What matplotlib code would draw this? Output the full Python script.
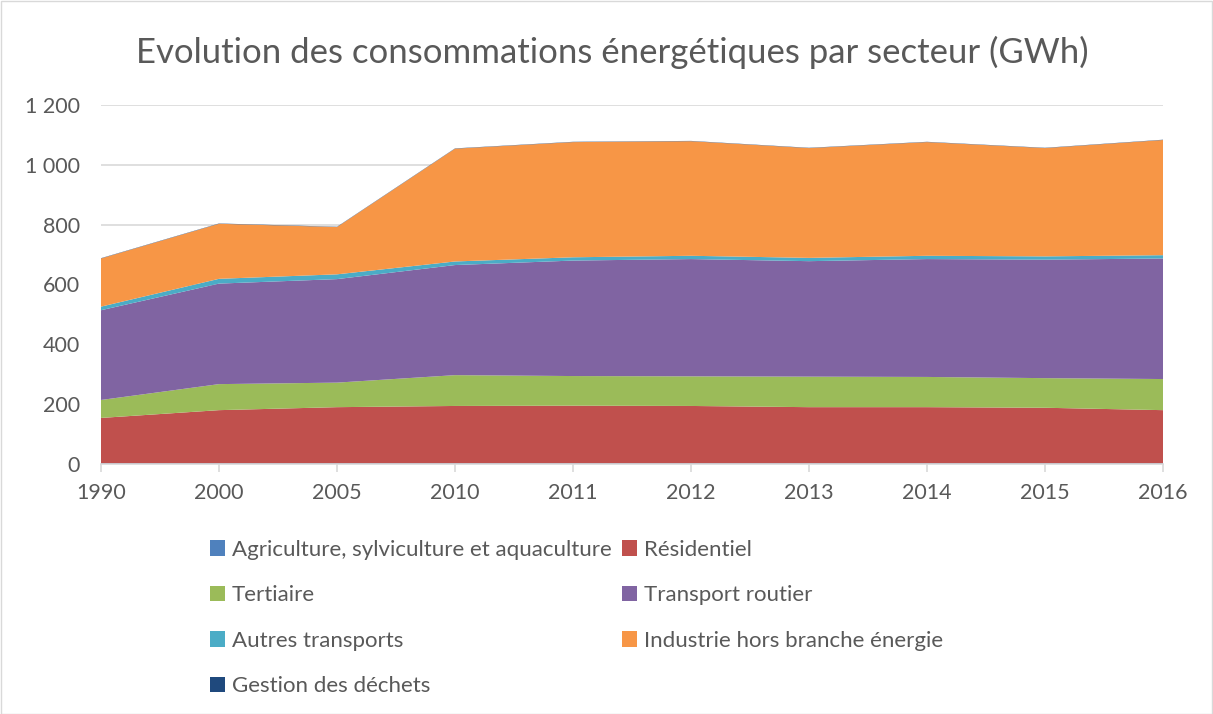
import matplotlib
matplotlib.use("Agg")
import matplotlib.pyplot as plt
import numpy as np
from matplotlib.patches import Patch, Rectangle

years = ["1990", "2000", "2005", "2010", "2011", "2012", "2013", "2014", "2015", "2016"]
agriculture = [2, 2, 2, 2, 2, 2, 2, 2, 2, 2]
residentiel = [152, 178, 188, 192, 193, 192, 188, 188, 186, 178]
tertiaire = [60, 87, 82, 103, 99, 99, 102, 101, 99, 104]
transport_routier = [300, 336, 346, 368, 386, 392, 386, 394, 396, 403]
autres_transports = [12, 16, 16, 12, 11, 11, 11, 11, 11, 11]
industrie = [161, 184, 158, 377, 385, 383, 367, 380, 362, 385]
dechets = [1, 1, 1, 1, 1, 1, 1, 1, 1, 1]

labels = ["Agriculture, sylviculture et aquaculture", "Résidentiel", "Tertiaire",
          "Transport routier", "Autres transports", "Industrie hors branche énergie",
          "Gestion des déchets"]
colors = ["#4F81BD", "#C0504D", "#9BBB59", "#8064A2", "#4BACC6", "#F79646", "#1F497D"]
series = [agriculture, residentiel, tertiaire, transport_routier, autres_transports, industrie, dechets]

plt.rcParams['font.family'] = ['Lato', 'DejaVu Sans']

W, H = 1213, 714
fig = plt.figure(figsize=(W / 100, H / 100), dpi=100)
fig.patches.append(Rectangle((0.5 / W, 0.5 / H), 1 - 1.5 / W, 1 - 1.5 / H, transform=fig.transFigure,
                             fill=False, edgecolor="#D9D9D9", linewidth=1))

left, right = 101 / W, 1163 / W
bottom, top = 1 - 464 / H, 1 - 105 / H
ax = fig.add_axes([left, bottom, right - left, top - bottom])

x = np.arange(len(years))
ax.stackplot(x, *series, colors=colors, labels=labels, linewidth=0)

ax.set_xlim(0, len(years) - 1)
ax.set_ylim(0, 1200)
ax.set_yticks(np.arange(0, 1201, 200))
ax.set_yticklabels(["0", "200", "400", "600", "800", "1 000", "1 200"])
ax.set_xticks(x)
ax.set_xticklabels(years)
ax.grid(axis="y", color="#D9D9D9", linewidth=1.2)
ax.set_axisbelow(True)
for s in ["top", "right", "left"]:
    ax.spines[s].set_visible(False)
ax.spines["bottom"].set_color("#D9D9D9")
ax.spines["bottom"].set_linewidth(1.2)
ax.tick_params(axis="y", length=0, labelsize=15.5, labelcolor="#595959", pad=15)
ax.tick_params(axis="x", length=6, color="#D9D9D9", width=1.2, labelsize=15.5, labelcolor="#595959", pad=8)

fig.text(612 / W, 1 - 52 / H, "Evolution des consommations énergétiques par secteur (GWh)",
         ha="center", va="center", fontsize=25, color="#595959")

handles = [Patch(facecolor=c) for c in colors]
order = [0, 2, 4, 6, 1, 3, 5]
leg = fig.legend([handles[i] for i in order], [labels[i] for i in order], ncol=2,
                 loc="upper left", bbox_to_anchor=(194 / W, 1 - 524 / H), frameon=False,
                 fontsize=16, labelcolor="#595959", handlelength=0.7, handleheight=0.7,
                 handletextpad=0.3, columnspacing=0.45, labelspacing=1.15, borderpad=0.2)

fig.savefig("out.png", dpi=100)
